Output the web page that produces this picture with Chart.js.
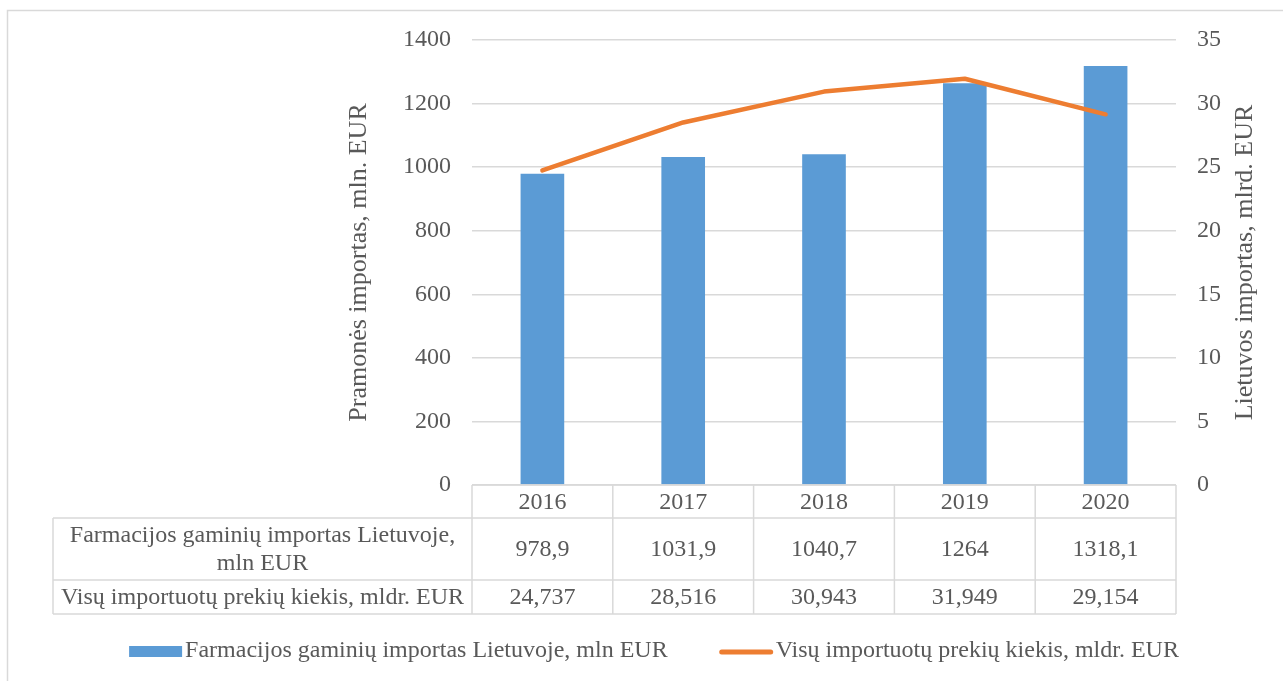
<!DOCTYPE html>
<html>
<head>
<meta charset="utf-8">
<script src="https://cdn.jsdelivr.net/npm/chart.js@4.4.1/dist/chart.umd.min.js"></script>
<style>
  body { margin: 0; background: #fff; }
  #wrap { width: 1283px; height: 681px; }
</style>
</head>
<body>
<div id="wrap"><canvas id="chart" width="1283" height="681"></canvas></div>
<script>
const years = ['2016', '2017', '2018', '2019', '2020']
const pharmaImports = [978.9, 1031.9, 1040.7, 1264, 1318.1]
const totalImports = [24.737, 28.516, 30.943, 31.949, 29.154]
const pharmaLabel = 'Farmacijos gaminių importas Lietuvoje, mln EUR'
const totalLabel = 'Visų importuotų prekių kiekis, mldr. EUR'
const leftTitle = 'Pramonės importas, mln. EUR'
const rightTitle = 'Lietuvos importas, mlrd. EUR'

const FONT = '"Liberation Serif", "Times New Roman", serif'
const TEXT = '#595959'
const GRID = '#d9d9d9'
const BLUE = '#5B9BD5'
const ORANGE = '#ED7D31'

// lithuanian style decimal comma
const fmt = v => String(v).replace('.', ',')

function wrapText(ctx, text, maxWidth) {
  const words = text.split(' ')
  const lines = []
  let cur = ''
  words.forEach(w => {
    const test = cur ? cur + ' ' + w : w
    if (ctx.measureText(test).width > maxWidth && cur) {
      lines.push(cur)
      cur = w
    } else {
      cur = test
    }
  })
  if (cur) lines.push(cur)
  return lines
}

// outer frame of the chart object
const frame = {
  id: 'frame',
  beforeDraw(chart) {
    const { ctx } = chart
    ctx.save()
    ctx.strokeStyle = GRID
    ctx.lineWidth = 1.5
    ctx.strokeRect(7.5, 10.5, chart.width + 10, chart.height + 10)
    ctx.restore()
  }
}

// right axis title, reading bottom to top like the left one
const rightAxisTitle = {
  id: 'rightAxisTitle',
  afterDraw(chart) {
    const { ctx, chartArea } = chart
    const s = chart.scales.y1
    ctx.save()
    ctx.translate(s.right - 38, (chartArea.top + chartArea.bottom) / 2)
    ctx.rotate(-Math.PI / 2)
    ctx.font = '26px ' + FONT
    ctx.fillStyle = TEXT
    ctx.textAlign = 'center'
    ctx.textBaseline = 'middle'
    ctx.fillText(rightTitle, 0, 0)
    ctx.restore()
  }
}

// data table under the plot, aligned on the category scale
const dataTable = {
  id: 'dataTable',
  afterDraw(chart) {
    const { ctx, chartArea } = chart
    const x = chart.scales.x
    const step = (chartArea.right - chartArea.left) / years.length
    const tableLeft = 53
    const lineH = 28
    const rows = [
      { label: pharmaLabel, values: pharmaImports },
      { label: totalLabel, values: totalImports }
    ]

    ctx.save()
    ctx.font = '24px ' + FONT
    ctx.fillStyle = TEXT
    ctx.textAlign = 'center'
    ctx.textBaseline = 'middle'

    const labelW = chartArea.left - tableLeft - 8
    rows.forEach(r => { r.lines = wrapText(ctx, r.label, labelW) })

    const yTop = chartArea.bottom
    const yHead = yTop + 33
    const edges = [yHead]
    rows.forEach(r => edges.push(edges[edges.length - 1] + r.lines.length * lineH + 6))
    const yEnd = edges[edges.length - 1]

    // lines
    ctx.strokeStyle = GRID
    ctx.lineWidth = 1.5
    ctx.beginPath()
    ctx.moveTo(chartArea.left, yTop); ctx.lineTo(chartArea.right, yTop)
    edges.forEach(e => { ctx.moveTo(tableLeft, e); ctx.lineTo(chartArea.right, e) })
    ctx.moveTo(tableLeft, yHead); ctx.lineTo(tableLeft, yEnd)
    for (let i = 0; i <= years.length; i++) {
      const xx = chartArea.left + i * step
      ctx.moveTo(xx, yTop); ctx.lineTo(xx, yEnd)
    }
    ctx.stroke()

    // header years
    years.forEach((yr, i) => {
      ctx.fillText(yr, x.getPixelForValue(i), (yTop + yHead) / 2 + 1)
    })

    // rows
    rows.forEach((r, ri) => {
      const top = edges[ri], bot = edges[ri + 1]
      const mid = (top + bot) / 2 + 1
      const lx = (tableLeft + chartArea.left) / 2
      r.lines.forEach((ln, li) => {
        ctx.fillText(ln, lx, mid + (li - (r.lines.length - 1) / 2) * lineH)
      })
      r.values.forEach((v, i) => {
        ctx.fillText(fmt(v), x.getPixelForValue(i), mid)
      })
    })
    ctx.restore()
  }
}

// legend below the table
const bottomLegend = {
  id: 'bottomLegend',
  afterDraw(chart) {
    const { ctx } = chart
    const y = 651
    const symW = 53
    const gap = 52
    ctx.save()
    ctx.font = '24px ' + FONT
    ctx.fillStyle = TEXT
    ctx.textBaseline = 'middle'
    const w1 = ctx.measureText(pharmaLabel).width
    const w2 = ctx.measureText(totalLabel).width
    const total = symW + 3 + w1 + gap + symW + 3 + w2
    let x0 = 654 - total / 2

    ctx.fillStyle = BLUE
    ctx.fillRect(x0, y - 5, symW, 11)
    ctx.fillStyle = TEXT
    ctx.fillText(pharmaLabel, x0 + symW + 3, y)

    x0 += symW + 3 + w1 + gap
    ctx.strokeStyle = ORANGE
    ctx.lineWidth = 5
    ctx.lineCap = 'round'
    ctx.beginPath()
    ctx.moveTo(x0 + 2, y + 1); ctx.lineTo(x0 + symW - 2, y + 1)
    ctx.stroke()
    ctx.fillText(totalLabel, x0 + symW + 3, y)
    ctx.restore()
  }
}

const ctx = document.getElementById('chart').getContext('2d')

new Chart(ctx, {
  type: 'bar',
  data: {
    labels: years,
    datasets: [
      {
        type: 'line',
        label: totalLabel,
        data: totalImports,
        yAxisID: 'y1',
        borderColor: ORANGE,
        borderWidth: 4.5,
        borderCapStyle: 'round',
        borderJoinStyle: 'round',
        pointRadius: 0,
        tension: 0,
        order: 1
      },
      {
        type: 'bar',
        label: pharmaLabel,
        data: pharmaImports,
        yAxisID: 'y',
        backgroundColor: BLUE,
        categoryPercentage: 1,
        barPercentage: 0.31,
        order: 2
      }
    ]
  },
  options: {
    responsive: false,
    animation: false,
    layout: { padding: { left: 344, right: 0, top: 40, bottom: 0 } },
    plugins: {
      legend: { display: false },
      tooltip: { enabled: false }
    },
    scales: {
      x: {
        grid: { display: false },
        border: { display: false },
        ticks: { display: false },
        afterFit(s) { s.height = 196 }
      },
      y: {
        position: 'left',
        min: 0,
        max: 1400,
        ticks: {
          stepSize: 200,
          padding: 21,
          color: TEXT,
          font: { family: FONT, size: 24 },
          callback: v => String(v)
        },
        grid: { color: GRID, lineWidth: 1.5, drawTicks: false },
        border: { display: false },
        title: {
          display: true,
          text: leftTitle,
          color: TEXT,
          font: { family: FONT, size: 26 },
          padding: 0
        },
        afterFit(s) { s.width = 128 }
      },
      y1: {
        position: 'right',
        min: 0,
        max: 35,
        ticks: {
          stepSize: 5,
          padding: 21,
          color: TEXT,
          font: { family: FONT, size: 24 },
          callback: v => String(v)
        },
        grid: { display: false, drawTicks: false },
        border: { display: false },
        afterFit(s) { s.width = 107 }
      }
    }
  },
  plugins: [frame, dataTable, rightAxisTitle, bottomLegend]
})
</script>
</body>
</html>
